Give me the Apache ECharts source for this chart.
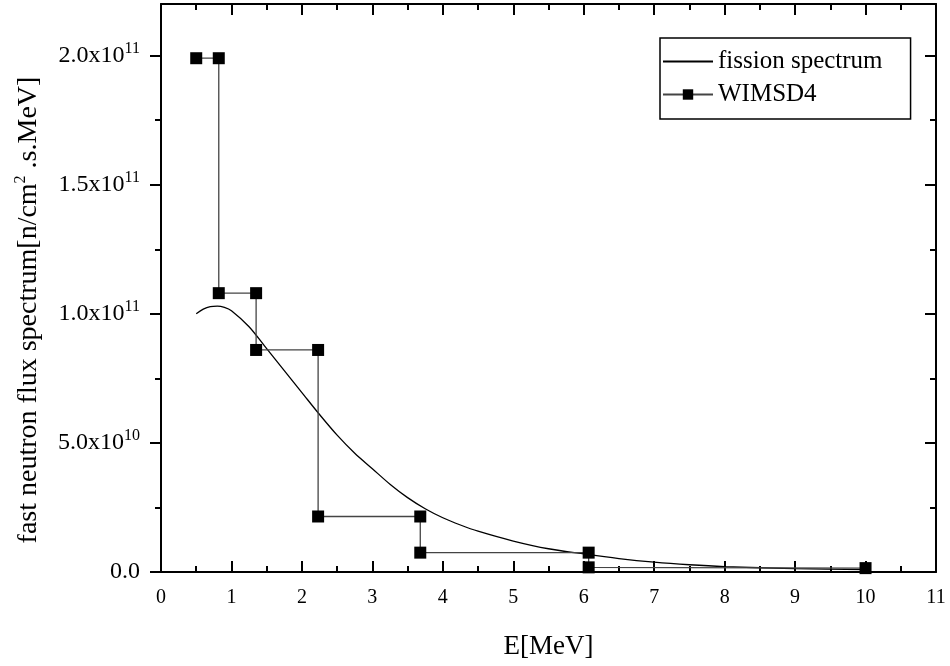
<!DOCTYPE html>
<html>
<head>
<meta charset="utf-8">
<script src="https://cdn.jsdelivr.net/npm/echarts@6/dist/echarts.min.js"></script>
<style>
  html, body { margin: 0; padding: 0; background: #fff; }
  #chart { width: 950px; height: 666px; }
</style>
</head>
<body>
<div id="chart"></div>
<script>
// fission spectrum (E in MeV, flux in 1e9)
const fissionE = [0.5, 0.6, 0.7, 0.8, 0.9, 1.0, 1.25, 1.5, 1.75, 2.0, 2.25, 2.5, 2.75, 3.0, 3.25, 3.5, 3.75, 4.0, 4.25, 4.5, 5.0, 5.5, 6.0, 6.5, 7.0, 7.5, 8.0, 9.0, 10.0]
const fissionY = [100, 101.8, 102.8, 103, 102.5, 101.2, 95, 86.5, 78, 69.5, 61, 53, 46, 40, 34, 28.8, 24.5, 21, 18.2, 15.8, 12, 9, 7, 5.2, 3.8, 2.8, 2.1, 1.3, 0.9]

// WIMSD4 group fluxes as a step line
const wimsE = [0.5, 0.82, 0.82, 1.35, 1.35, 2.23, 2.23, 3.68, 3.68, 6.07, 6.07, 10.0]
const wimsY = [199, 199, 108, 108, 86, 86, 21.5, 21.5, 7.5, 7.5, 1.8, 1.5]

const yTicks = [0, 5e10, 1e11, 1.5e11, 2e11]
const yMinor = [2.5e10, 7.5e10, 1.25e11, 1.75e11]

const toPairs = (xs, ys) => xs.map((x, i) => [x, ys[i] * 1e9])

const fmtY = v => {
  if (v === 0) return '{a|0.0}'
  const exp = Math.floor(Math.log10(v))
  const m = (v / Math.pow(10, exp)).toFixed(1)
  return '{a|' + m + 'x10}{s|' + exp + '}'
}

const font = 'Liberation Serif'
const black = { width: 2, color: '#000' }
const chart = echarts.init(document.getElementById('chart'))

const baseX = {
  type: 'value',
  min: 0,
  max: 11,
  interval: 1,
  axisLine: { onZero: false, lineStyle: black },
  axisTick: { inside: true, length: 11, lineStyle: black },
  minorTick: { show: true, splitNumber: 2, length: 6, lineStyle: black },
  splitLine: { show: false }
}
const baseY = {
  type: 'value',
  min: 0,
  max: 2.2e11,
  interval: 5e10,
  axisLine: { onZero: false, lineStyle: black },
  splitLine: { show: false }
}
// extra axes used only to draw the short minor ticks on the y sides
const minorY = (pos, inside) => Object.assign({}, baseY, {
  position: pos,
  axisLine: { show: false, onZero: false },
  axisTick: { inside: inside, length: 6, lineStyle: black, customValues: yMinor },
  axisLabel: { show: false }
})

chart.setOption({
  animation: false,
  backgroundColor: '#fff',
  grid: { left: 161, right: 14, top: 4, bottom: 94 },
  legend: {
    left: 660,
    top: 38,
    orient: 'vertical',
    itemWidth: 50,
    itemHeight: 13,
    itemGap: 8,
    padding: [11, 28, 12, 2],
    borderColor: '#000',
    borderWidth: 1.5,
    borderRadius: 0,
    textStyle: { fontFamily: font, fontSize: 25, color: '#000' },
    data: [
      { name: 'fission spectrum', itemStyle: { opacity: 0 } },
      { name: 'WIMSD4' }
    ]
  },
  xAxis: [
    Object.assign({}, baseX, {
      position: 'bottom',
      name: 'E[MeV]',
      nameLocation: 'middle',
      nameGap: 61,
      nameTextStyle: { fontFamily: font, fontSize: 27, color: '#000' },
      axisLabel: { fontFamily: font, fontSize: 20, color: '#000', margin: 16 }
    }),
    Object.assign({}, baseX, {
      position: 'top',
      axisLabel: { show: false }
    })
  ],
  yAxis: [
    Object.assign({}, baseY, {
      position: 'left',
      name: '{a|fast neutron flux spectrum[n/cm}{s|2}{a| .s.MeV]}',
      nameLocation: 'middle',
      nameGap: 116,
      nameTextStyle: {
        fontFamily: font,
        color: '#000',
        padding: [0, 44, 0, 0],
        rich: {
          a: { fontFamily: font, fontSize: 28, color: '#000' },
          s: { fontFamily: font, fontSize: 16, color: '#000', padding: [0, 0, 16, 0] }
        }
      },
      axisTick: { inside: false, length: 11, lineStyle: black, customValues: yTicks },
      axisLabel: {
        margin: 21,
        customValues: yTicks,
        formatter: fmtY,
        rich: {
          a: { fontFamily: font, fontSize: 24, color: '#000' },
          s: { fontFamily: font, fontSize: 16, color: '#000', padding: [0, 0, 14, 0] }
        }
      }
    }),
    Object.assign({}, baseY, {
      position: 'right',
      axisTick: { inside: true, length: 11, lineStyle: black, customValues: yTicks },
      axisLabel: { show: false }
    }),
    minorY('left', false),
    minorY('right', true)
  ],
  series: [
    {
      name: 'fission spectrum',
      type: 'line',
      xAxisIndex: 0,
      yAxisIndex: 0,
      smooth: 0.3,
      symbol: 'none',
      lineStyle: { color: '#000', width: 1.3 },
      itemStyle: { color: '#000' },
      data: toPairs(fissionE, fissionY)
    },
    {
      name: 'WIMSD4',
      type: 'line',
      xAxisIndex: 0,
      yAxisIndex: 0,
      symbol: 'rect',
      symbolSize: 12,
      lineStyle: { color: '#444', width: 1.3 },
      itemStyle: { color: '#000' },
      data: toPairs(wimsE, wimsY)
    }
  ]
})
</script>
</body>
</html>
